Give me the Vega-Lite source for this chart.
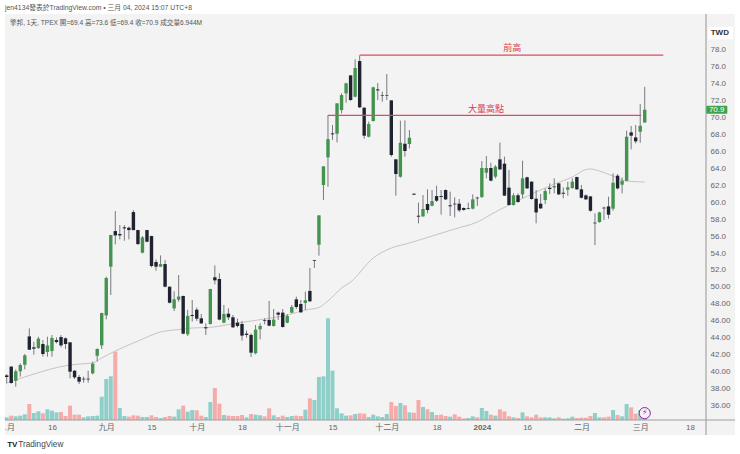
{"$schema":"https://vega.github.io/schema/vega-lite/v6.json","width":701,"height":406,"autosize":"none","padding":{"left":5,"top":14,"right":34,"bottom":34},"background":"#ffffff","config":{"view":{"stroke":null},"font":"Liberation Sans, Noto Sans CJK TC"},
"datasets":{"bars":[
{"i":0,"o":39.57,"h":39.73,"l":38.63,"c":39.38,"v":1.54,"vd":"up"},
{"i":1,"o":40.6,"h":40.67,"l":38.59,"c":38.67,"v":2.51,"vd":"down"},
{"i":2,"o":38.95,"h":40.28,"l":38.24,"c":40.05,"v":2.12,"vd":"up"},
{"i":3,"o":40.05,"h":40.99,"l":39.42,"c":40.79,"v":2.51,"vd":"up"},
{"i":4,"o":40.83,"h":42.09,"l":40.28,"c":41.93,"v":3.28,"vd":"up"},
{"i":5,"o":44.17,"h":45.12,"l":42.56,"c":42.6,"v":9.26,"vd":"down"},
{"i":6,"o":42.88,"h":43.54,"l":42.01,"c":42.72,"v":4.05,"vd":"up"},
{"i":7,"o":42.8,"h":44.13,"l":42.68,"c":43.9,"v":5.02,"vd":"up"},
{"i":8,"o":43.27,"h":43.74,"l":41.78,"c":42.09,"v":3.86,"vd":"down"},
{"i":9,"o":42.33,"h":44.13,"l":41.78,"c":43.11,"v":6.18,"vd":"up"},
{"i":10,"o":42.44,"h":44.33,"l":41.78,"c":43.98,"v":5.4,"vd":"up"},
{"i":11,"o":43.74,"h":44.06,"l":43.35,"c":43.5,"v":4.44,"vd":"up"},
{"i":12,"o":44.09,"h":44.33,"l":42.88,"c":43.11,"v":4.63,"vd":"down"},
{"i":13,"o":43.94,"h":44.06,"l":42.68,"c":43.27,"v":2.32,"vd":"down"},
{"i":14,"o":43.47,"h":43.5,"l":39.22,"c":40.01,"v":8.3,"vd":"down"},
{"i":15,"o":40.12,"h":40.2,"l":39.14,"c":39.34,"v":3.09,"vd":"down"},
{"i":16,"o":39.38,"h":39.61,"l":38.55,"c":38.83,"v":3.09,"vd":"down"},
{"i":17,"o":39.18,"h":39.42,"l":38.71,"c":39.1,"v":1.54,"vd":"up"},
{"i":18,"o":39.18,"h":40.12,"l":38.71,"c":39.1,"v":2.12,"vd":"up"},
{"i":19,"o":39.81,"h":41.19,"l":39.69,"c":40.95,"v":2.32,"vd":"up"},
{"i":20,"o":41.89,"h":42.76,"l":41.22,"c":42.68,"v":2.51,"vd":"up"},
{"i":21,"o":43.11,"h":46.96,"l":42.68,"c":46.92,"v":13.5,"vd":"up"},
{"i":22,"o":46.65,"h":51.21,"l":46.18,"c":51.05,"v":23.7,"vd":"up"},
{"i":23,"o":52.39,"h":56.15,"l":49.05,"c":56.12,"v":25.3,"vd":"up"},
{"i":24,"o":56.59,"h":58.95,"l":55.02,"c":56.08,"v":39.6,"vd":"down"},
{"i":25,"o":56.24,"h":57.3,"l":55.61,"c":56.08,"v":6.95,"vd":"up"},
{"i":26,"o":57.03,"h":57.3,"l":55.45,"c":56.91,"v":2.32,"vd":"up"},
{"i":27,"o":56.99,"h":57.11,"l":55.61,"c":56.71,"v":1.93,"vd":"down"},
{"i":28,"o":58.83,"h":59.07,"l":56.67,"c":56.71,"v":2.7,"vd":"down"},
{"i":29,"o":56.71,"h":56.73,"l":54.94,"c":55.06,"v":2.51,"vd":"down"},
{"i":30,"o":54.04,"h":56.0,"l":53.96,"c":55.85,"v":1.74,"vd":"up"},
{"i":31,"o":56.71,"h":56.73,"l":55.26,"c":55.34,"v":1.74,"vd":"up"},
{"i":32,"o":56.0,"h":56.04,"l":52.31,"c":52.47,"v":2.7,"vd":"down"},
{"i":33,"o":52.94,"h":53.25,"l":51.92,"c":52.39,"v":1.74,"vd":"down"},
{"i":34,"o":52.39,"h":53.72,"l":52.35,"c":52.7,"v":1.16,"vd":"up"},
{"i":35,"o":52.7,"h":53.17,"l":49.95,"c":50.03,"v":1.74,"vd":"down"},
{"i":36,"o":50.03,"h":50.05,"l":48.06,"c":48.14,"v":2.32,"vd":"down"},
{"i":37,"o":47.47,"h":49.5,"l":47.16,"c":48.54,"v":1.93,"vd":"up"},
{"i":38,"o":48.5,"h":51.41,"l":48.26,"c":48.87,"v":6.18,"vd":"up"},
{"i":39,"o":48.94,"h":48.97,"l":44.42,"c":44.49,"v":8.3,"vd":"down"},
{"i":40,"o":44.42,"h":47.29,"l":44.22,"c":46.58,"v":4.83,"vd":"up"},
{"i":41,"o":46.7,"h":48.46,"l":45.91,"c":46.58,"v":5.79,"vd":"up"},
{"i":42,"o":47.32,"h":47.56,"l":45.99,"c":46.26,"v":5.6,"vd":"down"},
{"i":43,"o":46.3,"h":46.81,"l":45.63,"c":45.71,"v":2.51,"vd":"down"},
{"i":44,"o":45.24,"h":45.71,"l":44.34,"c":45.12,"v":1.74,"vd":"up"},
{"i":45,"o":45.63,"h":49.78,"l":45.56,"c":49.76,"v":10.4,"vd":"up"},
{"i":46,"o":51.14,"h":52.55,"l":50.31,"c":50.78,"v":18.5,"vd":"down"},
{"i":47,"o":50.94,"h":51.61,"l":46.07,"c":46.15,"v":9.46,"vd":"down"},
{"i":48,"o":45.79,"h":47.87,"l":45.71,"c":46.81,"v":2.9,"vd":"up"},
{"i":49,"o":46.85,"h":47.48,"l":46.11,"c":46.42,"v":2.51,"vd":"down"},
{"i":50,"o":46.42,"h":46.7,"l":45.16,"c":45.24,"v":2.32,"vd":"down"},
{"i":51,"o":45.79,"h":46.26,"l":45.24,"c":45.4,"v":2.32,"vd":"down"},
{"i":52,"o":45.63,"h":45.99,"l":43.67,"c":44.26,"v":2.9,"vd":"down"},
{"i":53,"o":44.49,"h":44.85,"l":44.02,"c":44.34,"v":1.54,"vd":"up"},
{"i":54,"o":44.34,"h":44.53,"l":41.74,"c":42.25,"v":3.47,"vd":"down"},
{"i":55,"o":42.18,"h":45.52,"l":42.06,"c":44.97,"v":3.09,"vd":"up"},
{"i":56,"o":45.01,"h":45.71,"l":43.83,"c":45.4,"v":2.7,"vd":"up"},
{"i":57,"o":46.07,"h":46.3,"l":45.6,"c":45.99,"v":2.12,"vd":"down"},
{"i":58,"o":46.11,"h":48.35,"l":45.36,"c":45.44,"v":6.76,"vd":"down"},
{"i":59,"o":45.4,"h":47.4,"l":45.32,"c":46.15,"v":2.7,"vd":"up"},
{"i":60,"o":46.97,"h":47.09,"l":46.11,"c":46.73,"v":1.74,"vd":"down"},
{"i":61,"o":46.97,"h":47.4,"l":45.2,"c":45.28,"v":2.51,"vd":"down"},
{"i":62,"o":45.79,"h":46.81,"l":45.71,"c":46.58,"v":1.74,"vd":"up"},
{"i":63,"o":46.97,"h":47.87,"l":46.89,"c":47.64,"v":2.32,"vd":"up"},
{"i":64,"o":48.54,"h":48.86,"l":47.4,"c":47.64,"v":2.51,"vd":"down"},
{"i":65,"o":47.99,"h":48.46,"l":46.93,"c":47.01,"v":2.32,"vd":"down"},
{"i":66,"o":48.11,"h":49.45,"l":47.29,"c":48.43,"v":5.98,"vd":"up"},
{"i":67,"o":49.53,"h":52.24,"l":48.23,"c":48.31,"v":12.5,"vd":"down"},
{"i":68,"o":53.18,"h":53.2,"l":52.24,"c":53.1,"v":11.6,"vd":"up"},
{"i":69,"o":54.98,"h":58.46,"l":53.69,"c":58.44,"v":24.9,"vd":"up"},
{"i":70,"o":62.02,"h":64.24,"l":60.25,"c":64.22,"v":25.3,"vd":"up"},
{"i":71,"o":65.28,"h":70.27,"l":61.82,"c":67.44,"v":58.9,"vd":"up"},
{"i":72,"o":68.11,"h":69.1,"l":67.33,"c":68.0,"v":28.6,"vd":"up"},
{"i":73,"o":68.07,"h":71.67,"l":67.05,"c":71.65,"v":6.76,"vd":"up"},
{"i":74,"o":70.86,"h":72.83,"l":70.47,"c":72.63,"v":3.86,"vd":"up"},
{"i":75,"o":72.83,"h":74.09,"l":71.73,"c":74.01,"v":2.51,"vd":"up"},
{"i":76,"o":74.95,"h":74.97,"l":71.97,"c":72.04,"v":2.7,"vd":"down"},
{"i":77,"o":72.44,"h":76.84,"l":72.36,"c":75.82,"v":3.47,"vd":"up"},
{"i":78,"o":76.64,"h":77.31,"l":71.1,"c":71.18,"v":3.86,"vd":"down"},
{"i":79,"o":71.14,"h":71.18,"l":67.48,"c":67.84,"v":3.67,"vd":"down"},
{"i":80,"o":67.72,"h":69.49,"l":67.64,"c":69.21,"v":1.74,"vd":"up"},
{"i":81,"o":69.57,"h":73.62,"l":69.49,"c":73.54,"v":3.09,"vd":"up"},
{"i":82,"o":73.3,"h":74.05,"l":72.04,"c":73.18,"v":2.12,"vd":"up"},
{"i":83,"o":72.59,"h":73.03,"l":71.85,"c":72.52,"v":1.74,"vd":"up"},
{"i":84,"o":72.59,"h":75.11,"l":72.04,"c":72.52,"v":3.47,"vd":"up"},
{"i":85,"o":72.0,"h":72.04,"l":65.36,"c":65.56,"v":10.4,"vd":"down"},
{"i":86,"o":65.05,"h":65.07,"l":60.76,"c":63.32,"v":8.1,"vd":"down"},
{"i":87,"o":63.0,"h":69.61,"l":62.89,"c":67.01,"v":9.84,"vd":"up"},
{"i":88,"o":66.89,"h":69.65,"l":65.36,"c":66.03,"v":8.49,"vd":"down"},
{"i":89,"o":66.86,"h":68.51,"l":66.34,"c":67.6,"v":4.44,"vd":"up"},
{"i":90,"o":61.0,"h":61.02,"l":60.86,"c":60.88,"v":4.25,"vd":"down"},
{"i":91,"o":58.4,"h":59.94,"l":57.5,"c":58.29,"v":11.6,"vd":"down"},
{"i":92,"o":58.33,"h":60.84,"l":58.25,"c":59.19,"v":7.53,"vd":"up"},
{"i":93,"o":59.78,"h":61.51,"l":58.68,"c":59.07,"v":6.18,"vd":"down"},
{"i":94,"o":59.58,"h":61.43,"l":59.5,"c":60.13,"v":4.63,"vd":"up"},
{"i":95,"o":60.72,"h":61.94,"l":60.02,"c":60.17,"v":2.9,"vd":"down"},
{"i":96,"o":60.72,"h":61.43,"l":58.52,"c":60.61,"v":3.09,"vd":"down"},
{"i":97,"o":61.43,"h":61.51,"l":60.25,"c":60.33,"v":2.32,"vd":"down"},
{"i":98,"o":59.63,"h":61.24,"l":58.37,"c":59.51,"v":1.93,"vd":"up"},
{"i":99,"o":59.82,"h":60.57,"l":58.21,"c":59.74,"v":3.28,"vd":"down"},
{"i":100,"o":59.82,"h":60.37,"l":58.84,"c":59.04,"v":1.93,"vd":"down"},
{"i":101,"o":59.31,"h":59.39,"l":59.0,"c":59.08,"v":0.97,"vd":"down"},
{"i":102,"o":59.27,"h":59.94,"l":59.15,"c":59.19,"v":1.16,"vd":"up"},
{"i":103,"o":59.23,"h":60.92,"l":59.15,"c":60.33,"v":2.12,"vd":"up"},
{"i":104,"o":60.53,"h":60.65,"l":59.55,"c":60.45,"v":1.54,"vd":"down"},
{"i":105,"o":60.61,"h":64.85,"l":60.49,"c":64.03,"v":6.95,"vd":"up"},
{"i":106,"o":63.48,"h":65.44,"l":62.81,"c":64.03,"v":5.21,"vd":"up"},
{"i":107,"o":64.03,"h":64.66,"l":62.46,"c":62.54,"v":3.09,"vd":"down"},
{"i":108,"o":63.01,"h":64.38,"l":62.81,"c":64.19,"v":2.51,"vd":"up"},
{"i":109,"o":65.05,"h":67.02,"l":63.79,"c":63.87,"v":6.18,"vd":"down"},
{"i":110,"o":64.54,"h":65.37,"l":60.73,"c":60.77,"v":5.02,"vd":"down"},
{"i":111,"o":61.71,"h":63.79,"l":59.59,"c":59.67,"v":2.12,"vd":"down"},
{"i":112,"o":59.67,"h":61.04,"l":59.59,"c":60.81,"v":1.54,"vd":"up"},
{"i":113,"o":60.81,"h":61.04,"l":59.94,"c":60.02,"v":1.16,"vd":"down"},
{"i":114,"o":60.92,"h":64.89,"l":60.45,"c":62.81,"v":4.44,"vd":"up"},
{"i":115,"o":62.93,"h":63.01,"l":61.55,"c":61.63,"v":2.12,"vd":"down"},
{"i":116,"o":62.42,"h":62.44,"l":60.29,"c":60.37,"v":1.54,"vd":"down"},
{"i":117,"o":60.41,"h":61.43,"l":57.5,"c":58.79,"v":3.09,"vd":"down"},
{"i":118,"o":59.82,"h":60.96,"l":59.19,"c":59.27,"v":1.54,"vd":"down"},
{"i":119,"o":60.25,"h":61.62,"l":59.78,"c":61.31,"v":1.54,"vd":"up"},
{"i":120,"o":61.7,"h":62.21,"l":60.96,"c":61.55,"v":1.54,"vd":"up"},
{"i":121,"o":61.74,"h":62.8,"l":61.04,"c":61.9,"v":0.97,"vd":"up"},
{"i":122,"o":62.21,"h":62.29,"l":60.84,"c":60.92,"v":1.54,"vd":"down"},
{"i":123,"o":61.11,"h":61.74,"l":60.45,"c":61.0,"v":0.77,"vd":"up"},
{"i":124,"o":61.47,"h":62.41,"l":60.76,"c":61.74,"v":0.97,"vd":"up"},
{"i":125,"o":61.66,"h":62.8,"l":61.59,"c":62.41,"v":1.93,"vd":"up"},
{"i":126,"o":62.96,"h":63.0,"l":61.47,"c":61.51,"v":1.16,"vd":"down"},
{"i":127,"o":61.51,"h":62.02,"l":60.45,"c":60.52,"v":1.35,"vd":"down"},
{"i":128,"o":60.8,"h":60.92,"l":60.25,"c":60.33,"v":1.35,"vd":"down"},
{"i":129,"o":60.68,"h":60.72,"l":58.87,"c":58.99,"v":2.32,"vd":"down"},
{"i":130,"o":57.58,"h":58.68,"l":54.94,"c":57.5,"v":4.05,"vd":"up"},
{"i":131,"o":57.65,"h":58.87,"l":57.58,"c":58.79,"v":1.54,"vd":"up"},
{"i":132,"o":59.35,"h":59.46,"l":57.89,"c":59.27,"v":1.54,"vd":"down"},
{"i":133,"o":59.5,"h":60.64,"l":58.05,"c":58.52,"v":1.93,"vd":"down"},
{"i":134,"o":59.23,"h":63.39,"l":58.99,"c":62.29,"v":5.79,"vd":"up"},
{"i":135,"o":63.12,"h":63.32,"l":61.51,"c":61.62,"v":2.9,"vd":"down"},
{"i":136,"o":62.06,"h":62.92,"l":61.04,"c":62.53,"v":2.12,"vd":"up"},
{"i":137,"o":62.53,"h":68.43,"l":62.45,"c":67.72,"v":9.26,"vd":"up"},
{"i":138,"o":68.23,"h":68.98,"l":66.22,"c":67.84,"v":7.33,"vd":"down"},
{"i":139,"o":67.64,"h":69.09,"l":66.93,"c":67.17,"v":3.67,"vd":"down"},
{"i":140,"o":68.31,"h":71.57,"l":67.01,"c":69.01,"v":5.79,"vd":"up"},
{"i":141,"o":69.4,"h":73.6,"l":69.35,"c":70.9,"v":6.944,"vd":"up"}
],
"ma":[{"i":0,"p":38.67},{"i":2,"p":39.03},{"i":6,"p":39.73},{"i":13,"p":40.71},{"i":16,"p":40.91},{"i":19,"p":41.03},{"i":21,"p":41.62},{"i":24,"p":42.45},{"i":29,"p":43.62},{"i":34,"p":44.69},{"i":38,"p":44.98},{"i":41,"p":45.16},{"i":45,"p":45.24},{"i":51,"p":45.75},{"i":57,"p":46.22},{"i":62,"p":46.69},{"i":66,"p":47.28},{"i":69,"p":47.58},{"i":71,"p":48.34},{"i":74,"p":49.87},{"i":76,"p":50.58},{"i":81,"p":53.41},{"i":85,"p":54.59},{"i":89,"p":55.18},{"i":94,"p":56.01},{"i":99,"p":56.83},{"i":104,"p":57.66},{"i":108,"p":58.84},{"i":111,"p":59.66},{"i":117,"p":61.2},{"i":121,"p":62.14},{"i":125,"p":62.96},{"i":128,"p":63.85},{"i":129,"p":63.91},{"i":131,"p":63.67},{"i":134,"p":63.08},{"i":137,"p":62.49},{"i":141,"p":62.38}],
"levels":[{"name":"前高","a":78,"b":145.1,"p":77.35,"tx":111.7,"ty":78.18},{"name":"大量高點","a":71,"b":140.2,"p":70.24,"tx":105.9,"ty":71.04}]},
"layer":[
{"data":{"values":[{"a":-0.376,"b":160.95,"lo":32.54,"hi":82.19}]},"mark":{"type":"rect","fill":"#f3f3f3"},"encoding":{"x":{"field":"a","type":"quantitative","scale":{"domain":[-0.376,154.54],"padding":0},"axis":null},"x2":{"field":"b"},"y":{"field":"lo","type":"quantitative","scale":{"domain":[34.31,82.19]},"axis":null},"y2":{"field":"hi"}}},
{"data":{"name":"bars"},"mark":{"type":"bar","size":4,"orient":"vertical"},"encoding":{"x":{"field":"i","type":"quantitative","scale":{"domain":[-0.376,154.54],"padding":0},"axis":null},"y":{"field":"v","type":"quantitative","scale":{"domain":[0,235]},"axis":null},"color":{"field":"vd","type":"nominal","scale":{"domain":["up","down"],"range":["#8fcfc9","#f4abaa"]},"legend":null}}},
{"layer":[
{"data":{"values":[{"x":154.54,"a":82.19,"b":32.54}]},"mark":{"type":"rule","color":"#b4b4b4","strokeWidth":1.5},"encoding":{"x":{"field":"x","type":"quantitative","scale":{"domain":[-0.376,154.54],"padding":0},"axis":{"zindex":1,"values":[0.6,10,22,32,42,52,62,72,84,95,105,115,127,140,151],"tickCount":40,"labelExpr":"{'0.6':'.月','10':'16','22':'九月','32':'15','42':'十月','52':'18','62':'十一月','72':'15','84':'十二月','95':'18','105':'2024','115':'16','127':'二月','140':'三月','151':'18'}[datum.value]","title":null,"domain":false,"ticks":false,"grid":false,"labelFontSize":8,"labelColor":"#666666","labelPadding":3,"labelOverlap":false,"labelFlush":false,"labelBound":false,"labelFontWeight":{"condition":{"test":"datum.value==105","value":"bold"},"value":"normal"}}},"y":{"field":"a","type":"quantitative","scale":{"domain":[34.31,82.19]},"axis":{"zindex":1,"orient":"right","values":[36,38,40,42,44,46,48,50,52,54,56,58,60,62,64,66,68,70,72,74,76,78],"tickCount":40,"labelExpr":"datum.value>50?format(datum.value,'.1f'):format(datum.value,'.2f')","title":null,"domain":false,"ticks":false,"grid":false,"labelFontSize":8,"labelColor":"#666666","labelPadding":4,"labelFlush":false,"labelOverlap":false,"labelBound":false,"labelAlign":"left"}},"y2":{"field":"b"}}},
{"data":{"values":[{"a":-0.376,"b":160.95,"y":34.31}]},"mark":{"type":"rule","color":"#a0a0a0","strokeWidth":1.2},"encoding":{"x":{"field":"a","type":"quantitative","scale":{"domain":[-0.376,154.54],"padding":0}},"x2":{"field":"b"},"y":{"field":"y","type":"quantitative","scale":{"domain":[34.31,82.19]}}}},
{"data":{"name":"ma"},"mark":{"type":"line","color":"#c9c3bf","strokeWidth":1,"interpolate":"monotone"},"encoding":{"x":{"field":"i","type":"quantitative","scale":{"domain":[-0.376,154.54],"padding":0}},"y":{"field":"p","type":"quantitative","scale":{"domain":[34.31,82.19]}}}},
{"data":{"name":"bars"},"mark":{"type":"rule","color":"#777a80","strokeWidth":1},"encoding":{"x":{"field":"i","type":"quantitative","scale":{"domain":[-0.376,154.54],"padding":0}},"y":{"field":"l","type":"quantitative","scale":{"domain":[34.31,82.19]}},"y2":{"field":"h"}}},
{"data":{"name":"bars"},"mark":{"type":"bar","size":3.4,"orient":"vertical"},"encoding":{"x":{"field":"i","type":"quantitative","scale":{"domain":[-0.376,154.54],"padding":0}},"y":{"field":"o","type":"quantitative","scale":{"domain":[34.31,82.19]}},"y2":{"field":"c"},"color":{"condition":{"test":"datum.c>=datum.o","value":"#44934f"},"value":"#1f2330"}}},
{"data":{"name":"levels"},"mark":{"type":"rule","color":"#e04a5f","strokeWidth":1.2},"encoding":{"x":{"field":"a","type":"quantitative","scale":{"domain":[-0.376,154.54],"padding":0}},"x2":{"field":"b"},"y":{"field":"p","type":"quantitative","scale":{"domain":[34.31,82.19]}}}},
{"data":{"name":"levels"},"mark":{"type":"text","color":"#d93a50","fontSize":9,"align":"center","baseline":"middle"},"encoding":{"x":{"field":"tx","type":"quantitative","scale":{"domain":[-0.376,154.54],"padding":0}},"y":{"field":"ty","type":"quantitative","scale":{"domain":[34.31,82.19]}},"text":{"field":"name"}}},
{"data":{"values":[{"x":-0.376,"y":82.89,"t":"jen4134發表於TradingView.com • 三月 04, 2024 15:07 UTC+8"}]},"mark":{"type":"text","color":"#555555","fontSize":6.8,"align":"left","baseline":"middle"},"encoding":{"x":{"field":"x","type":"quantitative","scale":{"domain":[-0.376,154.54],"padding":0}},"y":{"field":"y","type":"quantitative","scale":{"domain":[34.31,82.19]}},"text":{"field":"t"}}},
{"data":{"values":[{"x":0.73,"y":81.12,"t":"擎邦, 1天, TPEX  開=69.4  高=73.6  低=69.4  收=70.9  成交量6.944M"}]},"mark":{"type":"text","color":"#555555","fontSize":6.6,"align":"left","baseline":"middle"},"encoding":{"x":{"field":"x","type":"quantitative","scale":{"domain":[-0.376,154.54],"padding":0}},"y":{"field":"y","type":"quantitative","scale":{"domain":[34.31,82.19]}},"text":{"field":"t"}}},
{"data":{"values":[{"x":2.55,"y":31.36,"t":"TradingView"}]},"mark":{"type":"text","color":"#444444","fontSize":8.2,"align":"left","baseline":"middle"},"encoding":{"x":{"field":"x","type":"quantitative","scale":{"domain":[-0.376,154.54],"padding":0}},"y":{"field":"y","type":"quantitative","scale":{"domain":[34.31,82.19]}},"text":{"field":"t"}}},
{"data":{"values":[{"x":0.1,"y":31.36,"t":"TV"}]},"mark":{"type":"text","color":"#131722","fontSize":8,"fontWeight":"bold","align":"left","baseline":"middle"},"encoding":{"x":{"field":"x","type":"quantitative","scale":{"domain":[-0.376,154.54],"padding":0}},"y":{"field":"y","type":"quantitative","scale":{"domain":[34.31,82.19]}},"text":{"field":"t"}}},
{"data":{"values":[{"a":154.96,"b":160.5,"lo":79.2,"hi":80.68}]},"mark":{"type":"rect","fill":"#ffffff"},"encoding":{"x":{"field":"a","type":"quantitative","scale":{"domain":[-0.376,154.54],"padding":0}},"x2":{"field":"b"},"y":{"field":"lo","type":"quantitative","scale":{"domain":[34.31,82.19]}},"y2":{"field":"hi"}}},
{"data":{"values":[{"x":157.6,"y":79.95,"t":"TWD"}]},"mark":{"type":"text","color":"#333333","fontSize":8,"fontWeight":"bold","align":"center","baseline":"middle"},"encoding":{"x":{"field":"x","type":"quantitative","scale":{"domain":[-0.376,154.54],"padding":0}},"y":{"field":"y","type":"quantitative","scale":{"domain":[34.31,82.19]}},"text":{"field":"t"}}},
{"data":{"values":[{"a":154.6,"b":159.25,"lo":70.42,"hi":71.38}]},"mark":{"type":"rect","fill":"#3fa34d","cornerRadius":1},"encoding":{"x":{"field":"a","type":"quantitative","scale":{"domain":[-0.376,154.54],"padding":0}},"x2":{"field":"b"},"y":{"field":"lo","type":"quantitative","scale":{"domain":[34.31,82.19]}},"y2":{"field":"hi"}}},
{"data":{"values":[{"x":156.9,"y":70.9,"t":"70.9"}]},"mark":{"type":"text","color":"#ffffff","fontSize":8,"align":"center","baseline":"middle"},"encoding":{"x":{"field":"x","type":"quantitative","scale":{"domain":[-0.376,154.54],"padding":0}},"y":{"field":"y","type":"quantitative","scale":{"domain":[34.31,82.19]}},"text":{"field":"t"}}},
{"data":{"values":[{"x":141,"y":35.12}]},"mark":{"type":"point","shape":"circle","size":125,"filled":true,"fill":"#f6f0f8","stroke":"#8e24aa","strokeWidth":1,"opacity":1},"encoding":{"x":{"field":"x","type":"quantitative","scale":{"domain":[-0.376,154.54],"padding":0}},"y":{"field":"y","type":"quantitative","scale":{"domain":[34.31,82.19]}}}},
{"data":{"values":[{"x":141,"y":35.12,"t":"⚡"}]},"mark":{"type":"text","color":"#8e24aa","fontSize":8,"font":"DejaVu Sans","align":"center","baseline":"middle"},"encoding":{"x":{"field":"x","type":"quantitative","scale":{"domain":[-0.376,154.54],"padding":0}},"y":{"field":"y","type":"quantitative","scale":{"domain":[34.31,82.19]}},"text":{"field":"t"}}}
]}
],"resolve":{"scale":{"y":"independent"},"axis":{"x":"independent"}}}
